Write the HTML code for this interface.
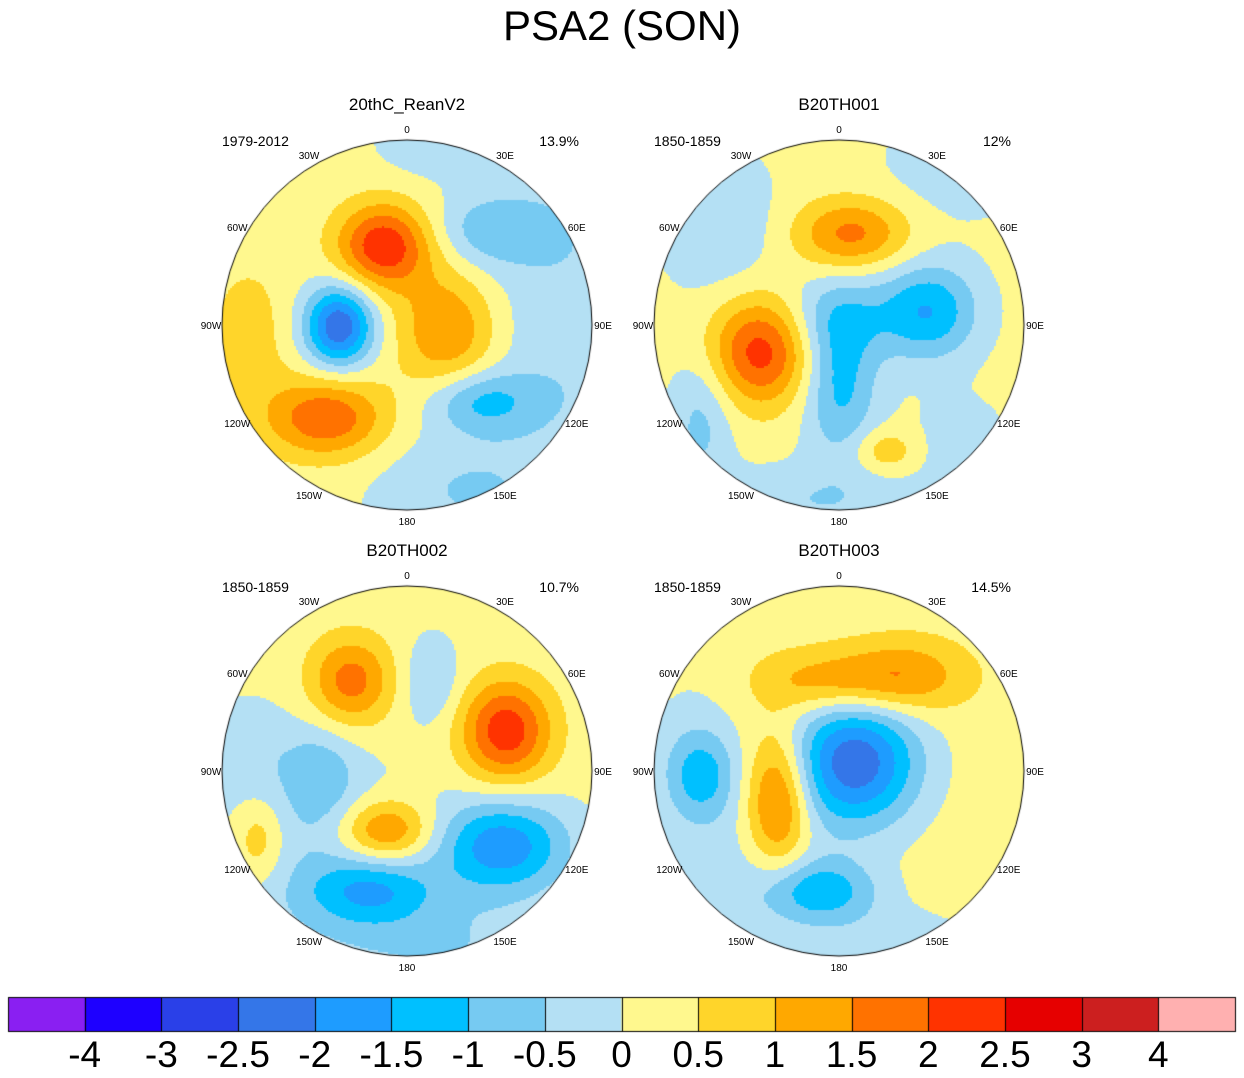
<!DOCTYPE html>
<html><head><meta charset="utf-8">
<style>
body{margin:0;background:#fff;width:1244px;height:1078px;overflow:hidden;position:relative;font-family:"Liberation Sans",sans-serif;}
.t{position:absolute;white-space:nowrap;color:#000}
canvas{position:absolute;left:0;top:0}
</style></head><body>
<canvas id="cv" width="1244" height="1078"></canvas>
<div class="t" style="left:0;width:1244px;text-align:center;top:2px;font-size:42px">PSA2 (SON)</div>
<div id="labels"></div>
<script>
const levels=[-4,-3,-2.5,-2,-1.5,-1,-0.5,0,0.5,1,1.5,2,2.5,3,4];
const colors=["#8a1ff2","#1e00ff","#2a40e8","#3476e8","#1e9cff","#00c0ff","#76caf2","#b4e0f4","#fff88e","#ffd52a","#ffa800","#ff7200","#ff3300","#e60000","#cc1f1f","#ffb0b0"];
const tickLabels=["-4","-3","-2.5","-2","-1.5","-1","-0.5","0","0.5","1","1.5","2","2.5","3","4"];
const panelTitles=["20thC_ReanV2","B20TH001","B20TH002","B20TH003"];
const panelYears=["1979-2012","1850-1859","1850-1859","1850-1859"];
const panelPct=["13.9%","12%","10.7%","14.5%"];
const panelBase=[0.15,0.15,0.15,0.25];
// blobs: [dx,dy,amp,sx,sy]
const blobs1=[[-24,-80,2.3,33,30],[40,5,1.4,35,42],[-69,0,-2.6,24,28],[-82,92,1.8,42,28],[73,75,-1.2,38,22],[85,-95,-0.9,42,25],[170,0,-0.6,70,160],[-160,10,0.6,30,55],[20,-185,-0.5,35,25],[50,165,-0.6,60,40]];
const blobs2=[[-79,25,2.1,35,38],[11,-92,1.5,40,25],[89,-15,-1.6,34,34],[0,60,-1.3,26,50],[0,-10,-0.9,40,30],[-139,95,-0.8,22,45],[46,125,0.8,22,15],[-120,-100,-0.6,40,50],[-30,175,-0.6,80,25],[120,120,-0.4,35,35],[120,-160,-0.5,50,35]];
const blobs3=[[98,-41,2.2,32,36],[-57,-91,1.6,30,32],[-22,59,1.6,32,22],[95,74,-2.0,45,33],[-37,119,-1.4,45,24],[-87,4,-0.8,26,35],[23,-91,-0.7,20,30],[-150,69,0.9,18,30],[-100,90,-0.5,80,80],[-160,-20,-0.4,35,35],[40,175,-0.6,80,35]];
const blobs4=[[15,-10,-2.6,45,45],[-62,30,1.8,22,48],[61,-95,1.3,45,26],[-20,-90,1.0,45,22],[-139,4,-1.3,25,32],[-19,119,-1.4,40,22],[-100,110,-0.5,70,60],[-150,-40,-0.3,35,55],[60,170,-0.5,60,25]];
const allBlobs=[blobs1,blobs2,blobs3,blobs4];
const centers=[[407,325],[839,325],[407,771],[839,771]];
const R=185;
const cv=document.getElementById('cv');
const ctx=cv.getContext('2d');
function colorFor(v){let i=0;while(i<levels.length&&v>=levels[i])i++;return colors[i];}
allBlobs.forEach((bl,p)=>{
  const [cx,cy]=centers[p];
  ctx.save();ctx.beginPath();ctx.arc(cx,cy,R,0,2*Math.PI);ctx.clip();
  for(let y=cy-R;y<cy+R;y+=2)for(let x=cx-R;x<cx+R;x+=2){
    let v=panelBase[p];
    for(const b of bl){const dx=(x-cx-b[0])/b[3],dy=(y-cy-b[1])/b[4];v+=b[2]*Math.exp(-0.5*(dx*dx+dy*dy));}
    ctx.fillStyle=colorFor(v);ctx.fillRect(x,y,2,2);
  }
  ctx.restore();
  ctx.beginPath();ctx.arc(cx,cy,R,0,2*Math.PI);ctx.strokeStyle='#000';ctx.lineWidth=1;ctx.stroke();
});
// colorbar
const cbx=8,cbw=1227,cby=997,cbh=34,n=colors.length;
colors.forEach((c,i)=>{ctx.fillStyle=c;ctx.fillRect(cbx+cbw*i/n,cby,cbw/n+0.5,cbh);});
ctx.strokeStyle='#000';ctx.lineWidth=1;
for(let i=0;i<=n;i++){const x=Math.round(cbx+cbw*i/n)+0.5;ctx.beginPath();ctx.moveTo(x,cby);ctx.lineTo(x,cby+cbh);ctx.stroke();}
ctx.strokeRect(cbx+0.5,cby+0.5,cbw,cbh);
const L=document.getElementById('labels');
function addT(txt,x,y,size,align,name){
  const d=document.createElement('div');d.className='t';d.textContent=txt;
  d.style.fontSize=size+'px';d.style.top=y+'px';
  if(align==='c'){d.style.left=(x-200)+'px';d.style.width='400px';d.style.textAlign='center';}
  else if(align==='r'){d.style.left=(x-400)+'px';d.style.width='400px';d.style.textAlign='right';}
  else d.style.left=x+'px';
  
  
  L.appendChild(d);
}
tickLabels.forEach((t,i)=>addT(t,cbx+cbw*(i+1)/n,1034,37,'c','colorbar-label'));
const lonLabels=["0","30E","60E","90E","120E","150E","180","150W","120W","90W","60W","30W"];
centers.forEach(([cx,cy],p)=>{
  addT(panelTitles[p],cx,cy-230,17,'c','panel-title');
  addT(panelYears[p],cx-185,cy-192,14,'l','panel-years');
  addT(panelPct[p],cx+172,cy-192,14,'r','panel-variance');
  lonLabels.forEach((lb,k)=>{
    const a=k*Math.PI/6;const rr=196;
    addT(lb,cx+rr*Math.sin(a),cy-rr*Math.cos(a)-4,10,'c','longitude-label');
  });
});
</script>
</body></html>
